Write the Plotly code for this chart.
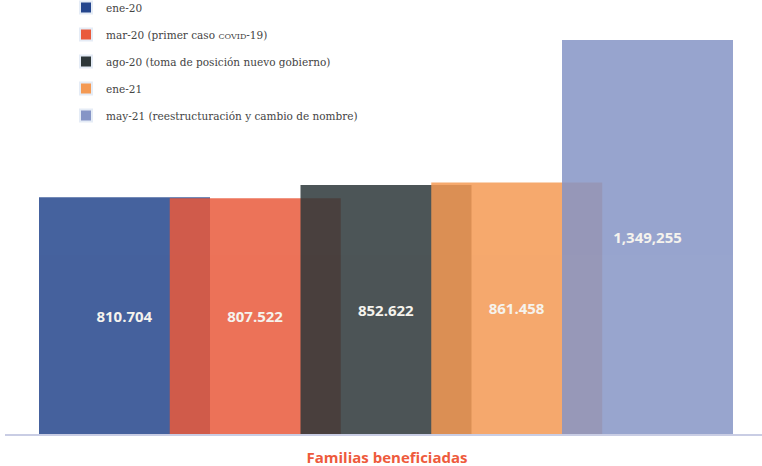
import plotly.graph_objects as go

category = ["Familias beneficiadas"]
series_names = [
    "ene-20",
    "mar-20 (primer caso <span style='font-size:8px'>COVID</span>-19)",
    "ago-20 (toma de posición nuevo gobierno)",
    "ene-21",
    "may-21 (reestructuración y cambio de nombre)",
]
values = [810704, 807522, 852622, 861458, 1349255]
value_labels = ["810.704", "807.522", "852.622", "861.458", "1,349,255"]
colors = ["#25468d", "#e95a3c", "#2d3739", "#f49a54", "#8695c6"]

# layout geometry (px in a 762x466 page)
W, H = 762, 466
ml, mr, mt, mb = 5, 0, 0, 32
plot_w = W - ml - mr
plot_h = H - mt - mb
center_px = 387
bar_px = 171
step_px = 130.75
first_left_px = 39

r0 = -(center_px - ml) / plot_w
r1 = r0 + 1.0
bar_w = bar_px / plot_w
ymax = values[-1] * plot_h / 394.0

fig = go.Figure()
for i, (name, v, lab, c) in enumerate(zip(series_names, values, value_labels, colors)):
    off = (first_left_px + i * step_px - center_px) / plot_w
    fig.add_trace(go.Bar(
        x=category, y=[v], name=name, width=[bar_w], offset=[off],
        marker=dict(color=c, line=dict(width=0)), opacity=0.85,
        text=[lab], textposition="inside", insidetextanchor="middle",
        textangle=0,
        textfont=dict(family="Open Sans", size=15, color="#f4f1ea", weight=700),
        showlegend=False, hoverinfo="skip",
    ))
    fig.add_trace(go.Bar(
        x=[None], y=[None], name=name, marker=dict(color=c),
        legendgroup=f"g{i}", showlegend=True,
    ))

fig.update_layout(
    width=W, height=H,
    margin=dict(l=ml, r=mr, t=mt, b=mb, autoexpand=False),
    barmode="overlay",
    plot_bgcolor="white", paper_bgcolor="white",
    showlegend=True,
    legend=dict(
        x=(66 - ml) / plot_w, y=1.0 + 7 / plot_h, xanchor="left", yanchor="top",
        font=dict(family="DejaVu Serif", size=10.5, color="#444444"),
        tracegroupgap=8, bgcolor="rgba(0,0,0,0)",
        itemsizing="constant",
    ),
    xaxis=dict(
        range=[r0, r1], showgrid=False, zeroline=False,
        showline=True, linecolor="#c9cde4", linewidth=2,
        ticks="", ticklabelstandoff=9,
        tickfont=dict(family="Open Sans", size=15, color="#ee5a3c", weight=700),
    ),
    yaxis=dict(range=[0, ymax], visible=False, showgrid=False, zeroline=False),
)

fig.write_html("out.html")
